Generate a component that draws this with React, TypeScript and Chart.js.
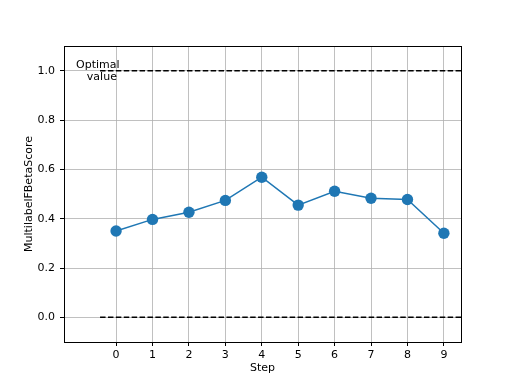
import React, { useEffect, useRef } from "react";
import { Chart, registerables } from "chart.js";

Chart.register(...registerables);

const steps = [0, 1, 2, 3, 4, 5, 6, 7, 8, 9];
const scores = [0.35, 0.397, 0.426, 0.474, 0.568, 0.455, 0.511, 0.483, 0.478, 0.341];
const yTicks = [0, 0.2, 0.4, 0.6, 0.8, 1.0];
const optimalValue = 1.0;
const baselineValue = 0.0;
const refLineStart = -0.44;
const xMin = -1.43;
const xMax = 9.47;
const yMin = -0.1;
const yMax = 1.1;
const annotationX = -0.5;
const annotationLines = ["Optimal", "value"];
const xTitle = "Step";
const yTitle = "MultilabelFBetaScore";

const FONT = "'DejaVu Sans', sans-serif";

const framePlugin = {
  id: "frame",
  afterDatasetsDraw(chart: any) {
    const { ctx, chartArea } = chart;
    const l = Math.round(chartArea.left) + 0.5;
    const t = Math.round(chartArea.top) + 0.5;
    const r = Math.round(chartArea.right) + 0.5;
    const b = Math.round(chartArea.bottom) + 0.5;
    ctx.save();
    ctx.strokeStyle = "#000";
    ctx.lineWidth = 1;
    ctx.strokeRect(l, t, r - l, b - t);
    // annotation text
    const xs = chart.scales.x;
    const ys = chart.scales.y;
    const cx = xs.getPixelForValue(annotationX);
    const cy = ys.getPixelForValue(optimalValue);
    ctx.fillStyle = "#000";
    ctx.font = `11px ${FONT}`;
    ctx.textAlign = "center";
    ctx.textBaseline = "middle";
    ctx.fillText(annotationLines[0], cx, cy - 6);
    ctx.fillText(annotationLines[1], cx + 4, cy + 6);
    ctx.restore();
  },
};

export default function App() {
  const ref = useRef<HTMLCanvasElement>(null);

  useEffect(() => {
    document.body.style.margin = "0";
    const canvas = ref.current;
    if (!canvas) return;
    Chart.defaults.font.family = FONT;
    Chart.defaults.font.size = 11;
    Chart.defaults.color = "#000";

    const chart = new Chart(canvas, {
      type: "line",
      data: {
        datasets: [
          {
            data: steps.map((s, i) => ({ x: s, y: scores[i] })),
            borderColor: "#1f77b4",
            backgroundColor: "#1f77b4",
            borderWidth: 1.5,
            pointRadius: 5.7,
            pointBorderWidth: 0,
            pointBackgroundColor: "#1f77b4",
            order: 0,
          },
          {
            data: [
              { x: refLineStart, y: optimalValue },
              { x: xMax, y: optimalValue },
            ],
            borderColor: "#000",
            borderWidth: 1.5,
            borderDash: [5.5, 2.4],
            pointRadius: 0,
            order: 1,
          },
          {
            data: [
              { x: refLineStart, y: baselineValue },
              { x: xMax, y: baselineValue },
            ],
            borderColor: "#000",
            borderWidth: 1.5,
            borderDash: [5.5, 2.4],
            pointRadius: 0,
            order: 2,
          },
        ],
      },
      options: {
        animation: false,
        responsive: false,
        maintainAspectRatio: false,
        layout: { padding: { top: 46, right: 51, left: 0, bottom: 0 } },
        plugins: { legend: { display: false }, tooltip: { enabled: false } },
        scales: {
          x: {
            type: "linear",
            min: xMin,
            max: xMax,
            afterBuildTicks: (s: any) => {
              s.ticks = steps.map((v) => ({ value: v }));
            },
            afterFit: (s: any) => {
              s.height = 42;
            },
            ticks: {
              padding: 3,
              maxRotation: 0,
              autoSkip: false,
              callback: (v: any) => String(v),
              color: "#000",
              font: { family: FONT, size: 11 },
            },
            grid: {
              color: "#b0b0b0",
              lineWidth: 0.8,
              tickColor: "#000",
              tickLength: 4,
              tickWidth: 1,
            },
            border: { display: false },
            title: {
              display: true,
              text: xTitle,
              color: "#000",
              font: { family: FONT, size: 11 },
              padding: { top: 0, bottom: 9 },
            },
          },
          y: {
            type: "linear",
            min: yMin,
            max: yMax,
            afterBuildTicks: (s: any) => {
              s.ticks = yTicks.map((v) => ({ value: v }));
            },
            afterFit: (s: any) => {
              s.width = 64;
            },
            ticks: {
              padding: 5,
              autoSkip: false,
              callback: (v: any) => Number(v).toFixed(1),
              color: "#000",
              font: { family: FONT, size: 11 },
            },
            grid: {
              color: "#b0b0b0",
              lineWidth: 0.8,
              tickColor: "#000",
              tickLength: 4,
              tickWidth: 1,
            },
            border: { display: false },
            title: {
              display: true,
              text: yTitle,
              color: "#000",
              font: { family: FONT, size: 11 },
              padding: { top: 22.4, bottom: 0 },
            },
          },
        },
      },
      plugins: [framePlugin],
    });
    return () => chart.destroy();
  }, []);

  return (
    <div style={{ position: "absolute", left: 0, top: 0, width: 512, height: 384, background: "#fff" }}>
      <canvas ref={ref} width={512} height={384} />
    </div>
  );
}
